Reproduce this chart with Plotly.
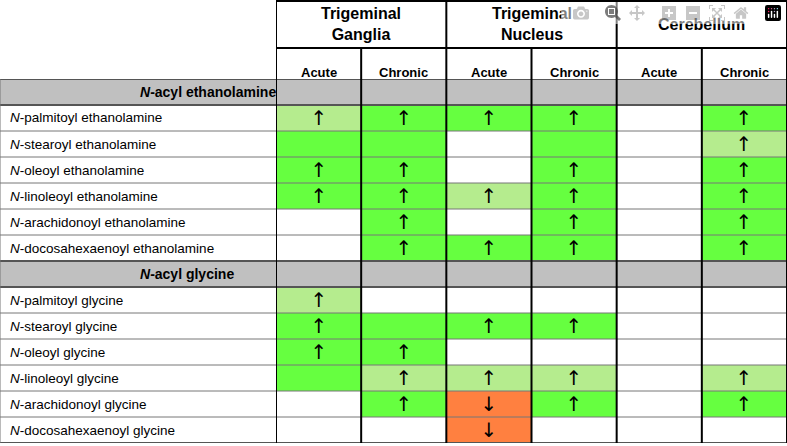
import plotly.graph_objects as go

groups = ["Trigeminal<br>Ganglia", "Trigeminal<br>Nucleus", "Cerebellum"]
conditions = ["Acute", "Chronic", "Acute", "Chronic", "Acute", "Chronic"]

row_labels = [
    "<b><i>N</i>-acyl ethanolamine</b>",
    "<i>N</i>-palmitoyl ethanolamine",
    "<i>N</i>-stearoyl ethanolamine",
    "<i>N</i>-oleoyl ethanolamine",
    "<i>N</i>-linoleoyl ethanolamine",
    "<i>N</i>-arachidonoyl ethanolamine",
    "<i>N</i>-docosahexaenoyl ethanolamine",
    "<b><i>N</i>-acyl glycine</b>",
    "<i>N</i>-palmitoyl glycine",
    "<i>N</i>-stearoyl glycine",
    "<i>N</i>-oleoyl glycine",
    "<i>N</i>-linoleoyl glycine",
    "<i>N</i>-arachidonoyl glycine",
    "<i>N</i>-docosahexaenoyl glycine",
]
group_rows = [0, 7]

# 0 none, 1 light green, 2 green, 3 orange (down), 4 section header
codes = [
    [4, 4, 4, 4, 4, 4],
    [1, 2, 2, 2, 0, 2],
    [2, 2, 0, 2, 0, 1],
    [2, 2, 0, 2, 0, 2],
    [2, 2, 1, 2, 0, 2],
    [0, 2, 0, 2, 0, 2],
    [0, 2, 2, 2, 0, 2],
    [4, 4, 4, 4, 4, 4],
    [1, 0, 0, 0, 0, 0],
    [2, 2, 2, 2, 0, 0],
    [2, 2, 0, 0, 0, 0],
    [2, 1, 1, 1, 0, 1],
    [0, 2, 3, 2, 0, 2],
    [0, 0, 3, 0, 0, 0],
]
arrows = [
    ["", "", "", "", "", ""],
    ["↑", "↑", "↑", "↑", "", "↑"],
    ["", "", "", "", "", "↑"],
    ["↑", "↑", "", "↑", "", "↑"],
    ["↑", "↑", "↑", "↑", "", "↑"],
    ["", "↑", "", "↑", "", "↑"],
    ["", "↑", "↑", "↑", "", "↑"],
    ["", "", "", "", "", ""],
    ["↑", "", "", "", "", ""],
    ["↑", "", "↑", "↑", "", ""],
    ["↑", "↑", "", "", "", ""],
    ["", "↑", "↑", "↑", "", "↑"],
    ["", "↑", "↓", "↑", "", "↑"],
    ["", "", "↓", "", "", ""],
]

colors = ["#ffffff", "#b5ec8e", "#66ff40", "#ff8040", "#c0c0c0"]
cscale = []
for i, c in enumerate(colors):
    cscale.append([i / 5, c])
    cscale.append([(i + 1) / 5, c])

W, H = 787, 446
x0 = 276 / W
ytop = 1 - 79 / H
ybot = 3 / H
nrows = len(row_labels)

fig = go.Figure(go.Heatmap(
    z=codes, x=list(range(6)), y=list(range(nrows)),
    text=arrows, texttemplate="%{text}",
    textfont=dict(size=20, color="black", family="DejaVu Sans"),
    colorscale=cscale, zmin=0, zmax=5, showscale=False, hoverinfo="skip",
))

shapes = []
# gray label cells for section rows
for r in group_rows:
    shapes.append(dict(type="rect", xref="paper", yref="y", x0=0, x1=x0,
                       y0=r - 0.5, y1=r + 0.5, fillcolor="#c0c0c0",
                       line_width=0, layer="below"))
# horizontal row lines
for r in range(nrows + 1):
    thick = r in (0, 1, 7, 8, nrows)
    shapes.append(dict(type="line", xref="paper", yref="y", x0=0, x1=1,
                       y0=r - 0.5, y1=r - 0.5,
                       line=dict(color="#555555" if thick else "#777777",
                                 width=2 if thick else 1)))
# vertical column lines
for c in range(7):
    shapes.append(dict(type="line", xref="x", yref="paper", x0=c - 0.5, x1=c - 0.5,
                       y0=ybot, y1=1 if c % 2 == 0 else 1 - 48 / H,
                       line=dict(color="black", width=2)))
# header lines
for yy in (1 - 1 / H, 1 - 48 / H):
    shapes.append(dict(type="line", xref="x", yref="paper", x0=-0.5, x1=5.5,
                       y0=yy, y1=yy, line=dict(color="black", width=2)))
shapes.append(dict(type="line", xref="paper", yref="paper", x0=0, x1=0,
                   y0=ybot, y1=ytop, line=dict(color="#777777", width=1)))

annotations = []
for i, g in enumerate(groups):
    annotations.append(dict(x=2 * i + 0.5, xref="x", y=1 - 24 / H, yref="paper",
                            text=f"<b>{g}</b>", showarrow=False, yanchor="middle",
                            font=dict(size=16, color="black")))
for i, c in enumerate(conditions):
    annotations.append(dict(x=i, xref="x", y=1 - 63 / H, yref="paper",
                            text=f"<b>{c}</b>", showarrow=False,
                            font=dict(size=13, color="black")))
for r, lab in enumerate(row_labels):
    if r in group_rows:
        annotations.append(dict(x=x0 / 2, xref="paper", y=r, yref="y", text=lab,
                                showarrow=False, font=dict(size=14, color="black")))
    else:
        annotations.append(dict(x=0.01, xref="paper", y=r, yref="y", text=lab,
                                xanchor="left", showarrow=False,
                                font=dict(size=13.5, color="black")))

fig.update_layout(
    width=W, height=H, margin=dict(l=0, r=0, t=0, b=0),
    paper_bgcolor="white", plot_bgcolor="white",
    font=dict(family="Liberation Sans, Arial, sans-serif"),
    xaxis=dict(domain=[x0, 1], range=[-0.5, 5.5], visible=False),
    yaxis=dict(domain=[ybot, ytop], range=[nrows - 0.5, -0.5], visible=False),
    shapes=shapes, annotations=annotations,
)

fig.write_html("out.html",
               post_script="document.body.style.margin='0';document.body.style.overflow='hidden';")
